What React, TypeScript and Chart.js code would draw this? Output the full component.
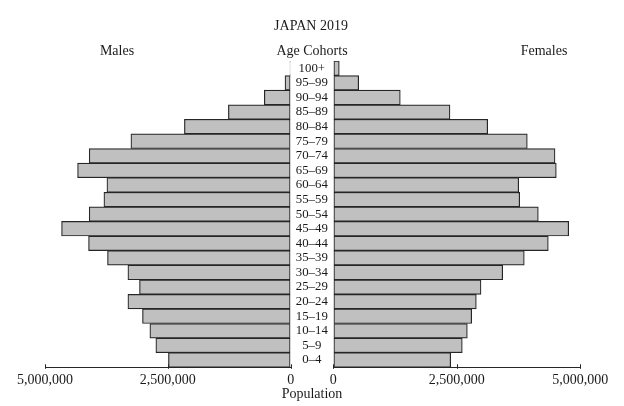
import { useEffect, useRef } from 'react';
import { Chart, registerables } from 'chart.js';

Chart.register(...registerables);

// ---- data ----
const ageGroups = [
  '0–4', '5–9', '10–14', '15–19', '20–24', '25–29', '30–34', '35–39', '40–44', '45–49',
  '50–54', '55–59', '60–64', '65–69', '70–74', '75–79', '80–84', '85–89', '90–94', '95–99', '100+',
];
const males = [
  2488000, 2744000, 2866000, 3016000, 3313000, 3077000, 3313000, 3728000, 4114000, 4663000,
  4100000, 3801000, 3740000, 4337000, 4100000, 3252000, 2163000, 1268000, 537000, 116000, 15000,
];
const females = [
  2376000, 2611000, 2713000, 2801000, 2895000, 2990000, 3429000, 3866000, 4352000, 4765000,
  4150000, 3773000, 3753000, 4514000, 4488000, 3927000, 3125000, 2362000, 1356000, 514000, 121000,
];
const axisMax = 5000000;
const axisStep = 2500000;
const chartTitle = 'JAPAN 2019';
const leftLabel = 'Males';
const centerLabel = 'Age Cohorts';
const rightLabel = 'Females';
const xTitle = 'Population';

const FONT = "'Liberation Serif', 'Times New Roman', serif";
const TEXT = '#1a1a1a';
const LINE = '#262626';
const W = 624;
const H = 406;

const fmt = (v: number) => Number(v).toLocaleString('en-US');

const tickMarks = {
  id: 'tickMarks',
  afterDraw(chart: any) {
    const xs = chart.scales.x;
    const ctx = chart.ctx;
    ctx.save();
    ctx.strokeStyle = LINE;
    ctx.lineWidth = 1;
    xs.ticks.forEach((t: any) => {
      const px = Math.round(xs.getPixelForValue(t.value)) + 0.5;
      ctx.beginPath();
      ctx.moveTo(px, xs.top - 3);
      ctx.lineTo(px, xs.top + 1.5);
      ctx.stroke();
    });
    ctx.restore();
  },
};

const texts = {
  id: 'texts',
  afterDraw(chart: any) {
    const ctx = chart.ctx;
    ctx.save();
    ctx.font = `14px ${FONT}`;
    ctx.fillStyle = TEXT;
    ctx.textAlign = 'center';
    ctx.textBaseline = 'middle';
    ctx.fillText(chartTitle, 311, 26);
    ctx.fillText(leftLabel, 117, 51);
    ctx.fillText(centerLabel, 312, 51);
    ctx.fillText(rightLabel, 544, 51);
    ctx.fillText(xTitle, 312, 394);
    ctx.restore();
  },
};

function makeConfig(side: 'left' | 'right'): any {
  const isLeft = side === 'left';
  return {
    type: 'bar',
    data: {
      labels: ageGroups,
      datasets: [
        {
          data: isLeft ? males : females,
          backgroundColor: '#c0c0c0',
          borderColor: LINE,
          borderWidth: 1.2,
          borderSkipped: false,
          barPercentage: 1,
          categoryPercentage: 1,
        },
      ],
    },
    options: {
      indexAxis: 'y',
      responsive: false,
      animation: false,
      devicePixelRatio: 1,
      layout: {
        padding: isLeft
          ? { left: 45, right: W - 290.7, top: 61, bottom: 0 }
          : { left: 290.7, right: W - 580.3, top: 61, bottom: 0 },
      },
      plugins: { legend: { display: false }, tooltip: { enabled: false }, title: { display: false } },
      scales: {
        x: {
          type: 'linear',
          min: 0,
          max: axisMax,
          reverse: isLeft,
          grid: { display: true, drawOnChartArea: false, drawTicks: false },
          border: { display: true, color: LINE, width: 1 },
          ticks: {
            stepSize: axisStep,
            padding: 5,
            color: TEXT,
            font: { family: FONT, size: 14 },
            maxRotation: 0,
            callback: (v: any) => fmt(v),
          },
          afterFit(s: any) {
            s.height = H - 367.3;
          },
        },
        y: isLeft
          ? { type: 'category', reverse: true, display: false }
          : {
              type: 'category',
              reverse: true,
              position: 'left',
              grid: { display: false, drawTicks: false },
              border: { display: false },
              ticks: {
                crossAlign: 'center',
                padding: 5.5,
                autoSkip: false,
                color: TEXT,
                font: { family: FONT, size: 12.8 },
              },
              afterFit(s: any) {
                s.width = 42.6;
              },
            },
      },
    },
    plugins: isLeft ? [tickMarks] : [tickMarks, texts],
  };
}

export default function App() {
  const leftRef = useRef<HTMLCanvasElement>(null);
  const rightRef = useRef<HTMLCanvasElement>(null);

  useEffect(() => {
    const l = new Chart(leftRef.current as HTMLCanvasElement, makeConfig('left'));
    const r = new Chart(rightRef.current as HTMLCanvasElement, makeConfig('right'));
    return () => {
      l.destroy();
      r.destroy();
    };
  }, []);

  const cs: any = { position: 'absolute', left: 0, top: 0, width: W, height: H };
  return (
    <div style={{ position: 'fixed', left: 0, top: 0, width: W, height: H, background: '#fff' }}>
      <canvas ref={leftRef} width={W} height={H} style={cs} />
      <canvas ref={rightRef} width={W} height={H} style={cs} />
    </div>
  );
}
